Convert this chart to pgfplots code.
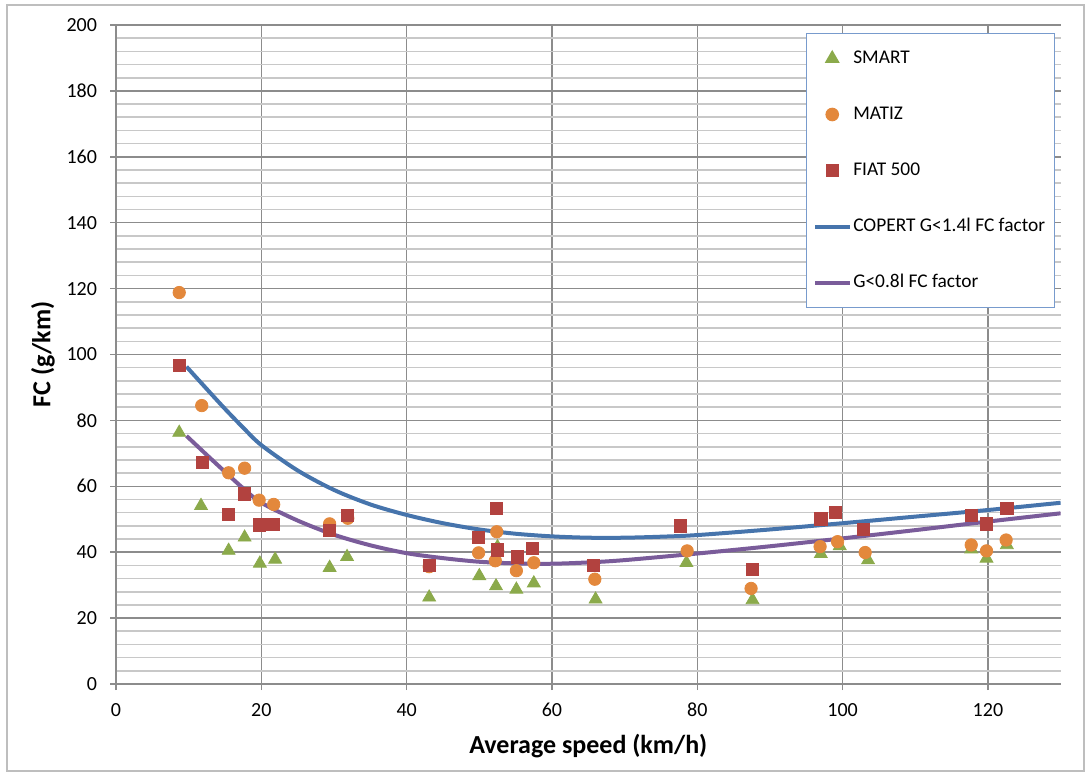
\documentclass[border=0pt]{standalone}
\usepackage{fontspec}
\setmainfont{Carlito}
\usepackage{pgfplots}
\pgfplotsset{compat=1.18}

\definecolor{smartgreen}{RGB}{139,170,75}
\definecolor{matizorange}{RGB}{227,136,60}
\definecolor{fiatred}{RGB}{178,66,63}
\definecolor{copertblue}{RGB}{70,116,172}
\definecolor{smallpurple}{RGB}{122,92,154}
\definecolor{majorgrid}{RGB}{140,140,140}
\definecolor{minorgrid}{RGB}{200,200,200}
\definecolor{framegray}{RGB}{190,190,190}
\definecolor{legendframe}{RGB}{120,155,205}

\begin{document}
\begin{tikzpicture}
\useasboundingbox (0,0) rectangle (545pt,388pt);
\draw[framegray, line width=0.8pt] (3.5pt,2.5pt) rectangle (542pt,385.5pt);
\begin{axis}[
  at={(58pt,46pt)}, anchor=south west,
  scale only axis, width=472.3pt, height=329.5pt,
  xmin=0, xmax=130, ymin=0, ymax=200,
  xtick={0,20,...,120}, ytick={0,20,...,200},
  minor y tick num=4,
  axis lines*=left,
  axis line style={majorgrid, line width=1pt},
  tick style={majorgrid, line width=0.8pt},
  major tick length=3pt, minor tick length=0pt,
  tick align=outside,
  grid=both,
  major grid style={majorgrid, line width=0.8pt},
  minor grid style={minorgrid, line width=0.8pt},
  minor x tick num=0,
  ticklabel style={font=\fontsize{10}{12}\selectfont},
  /pgf/number format/assume math mode=true,
  xticklabel style={yshift=-3pt},
  yticklabel style={xshift=-3pt},
  xlabel={\textbf{Average speed (km/h)}},
  ylabel={\textbf{FC (g/km)}},
  label style={font=\fontsize{13}{15}\selectfont},
  xlabel style={yshift=-2pt},
  ylabel style={yshift=-1pt},
  legend cell align=left,
  legend style={at={(0.730,0.988)}, anchor=north west,
    draw=legendframe, line width=0.6pt, fill=white,
    font=\fontsize{9.7}{11.5}\selectfont,
    inner xsep=3.5pt, inner ysep=7pt, row sep=17pt,
    nodes={inner sep=1pt, text height=7pt, text depth=2pt}},
]
% SMART
\addplot[only marks, mark=triangle*, mark size=3.7pt, color=smartgreen]
coordinates {
(8.7,76.3) (11.7,54.1) (15.5,40.5) (17.7,44.5) (19.8,36.6) (21.9,37.8)
(29.4,35.3) (31.8,38.6) (43.1,26.3) (50.0,32.8) (52.3,29.7) (52.5,41.6)
(55.1,28.7) (57.5,30.6) (66.0,25.7) (78.5,36.8) (87.6,25.5) (97.0,39.5)
(99.6,41.9) (103.5,37.6) (117.7,40.9) (119.8,38.1) (122.6,42.2)
};
\addlegendentry{SMART}
% MATIZ
\addplot[only marks, mark=*, mark size=3.1pt, color=matizorange]
coordinates {
(8.7,118.8) (11.8,84.5) (15.5,64.1) (17.7,65.5) (19.7,55.8) (21.7,54.5)
(29.4,48.6) (31.9,50.3) (43.1,35.6) (49.9,39.8) (52.2,37.4) (52.4,46.2)
(55.1,34.4) (57.5,36.8) (65.9,31.8) (78.6,40.4) (87.4,29.0) (96.9,41.7)
(99.3,43.2) (103.1,39.9) (117.7,42.2) (119.8,40.4) (122.5,43.7)
};
\addlegendentry{MATIZ}
% FIAT 500
\addplot[only marks, mark=square*, mark size=3.05pt, color=fiatred]
coordinates {
(8.7,96.8) (11.9,67.3) (15.5,51.5) (17.7,57.7) (19.7,48.3) (21.6,48.5)
(29.4,46.7) (31.9,51.1) (43.1,36.1) (49.9,44.5) (52.4,53.3) (52.5,40.7)
(55.2,38.6) (57.3,41.2) (65.7,36.1) (77.7,48.0) (87.6,34.9) (97.0,50.1)
(99.0,52.0) (102.9,47.0) (117.7,51.1) (119.8,48.6) (122.6,53.3)
};
\addlegendentry{FIAT 500}
% COPERT factor, G<1.4 l
\addplot[smooth, no marks, color=copertblue, line width=2pt]
coordinates {
(9.7,96.3) (12.5,89.5) (15,83.5) (17.5,77.8) (20,72.5) (25,64.8) (30,58.9) (35,54.5)
(40,51.3) (45,48.8) (50,46.9) (55,45.6) (60,44.8) (65,44.4) (70,44.4)
(75,44.7) (80,45.2) (90,46.9) (100,48.8) (110,50.8) (120,52.8) (130,55.0)
};
\addlegendentry{COPERT G<1.4l FC factor}
% G<0.8 l factor
\addplot[smooth, no marks, color=smallpurple, line width=2pt]
coordinates {
(9.7,75.3) (12.5,69.5) (15,64.4) (17.5,59.4) (20,55.0) (25,49.6) (30,45.3) (35,42.1)
(40,39.7) (45,38.2) (50,37.1) (55,36.6) (60,36.5) (65,36.9) (70,37.6)
(80,39.6) (90,41.8) (100,44.2) (110,46.7) (120,49.3) (130,51.8)
};
\addlegendentry{G<0.8l FC factor}
\end{axis}
\end{tikzpicture}
\end{document}
